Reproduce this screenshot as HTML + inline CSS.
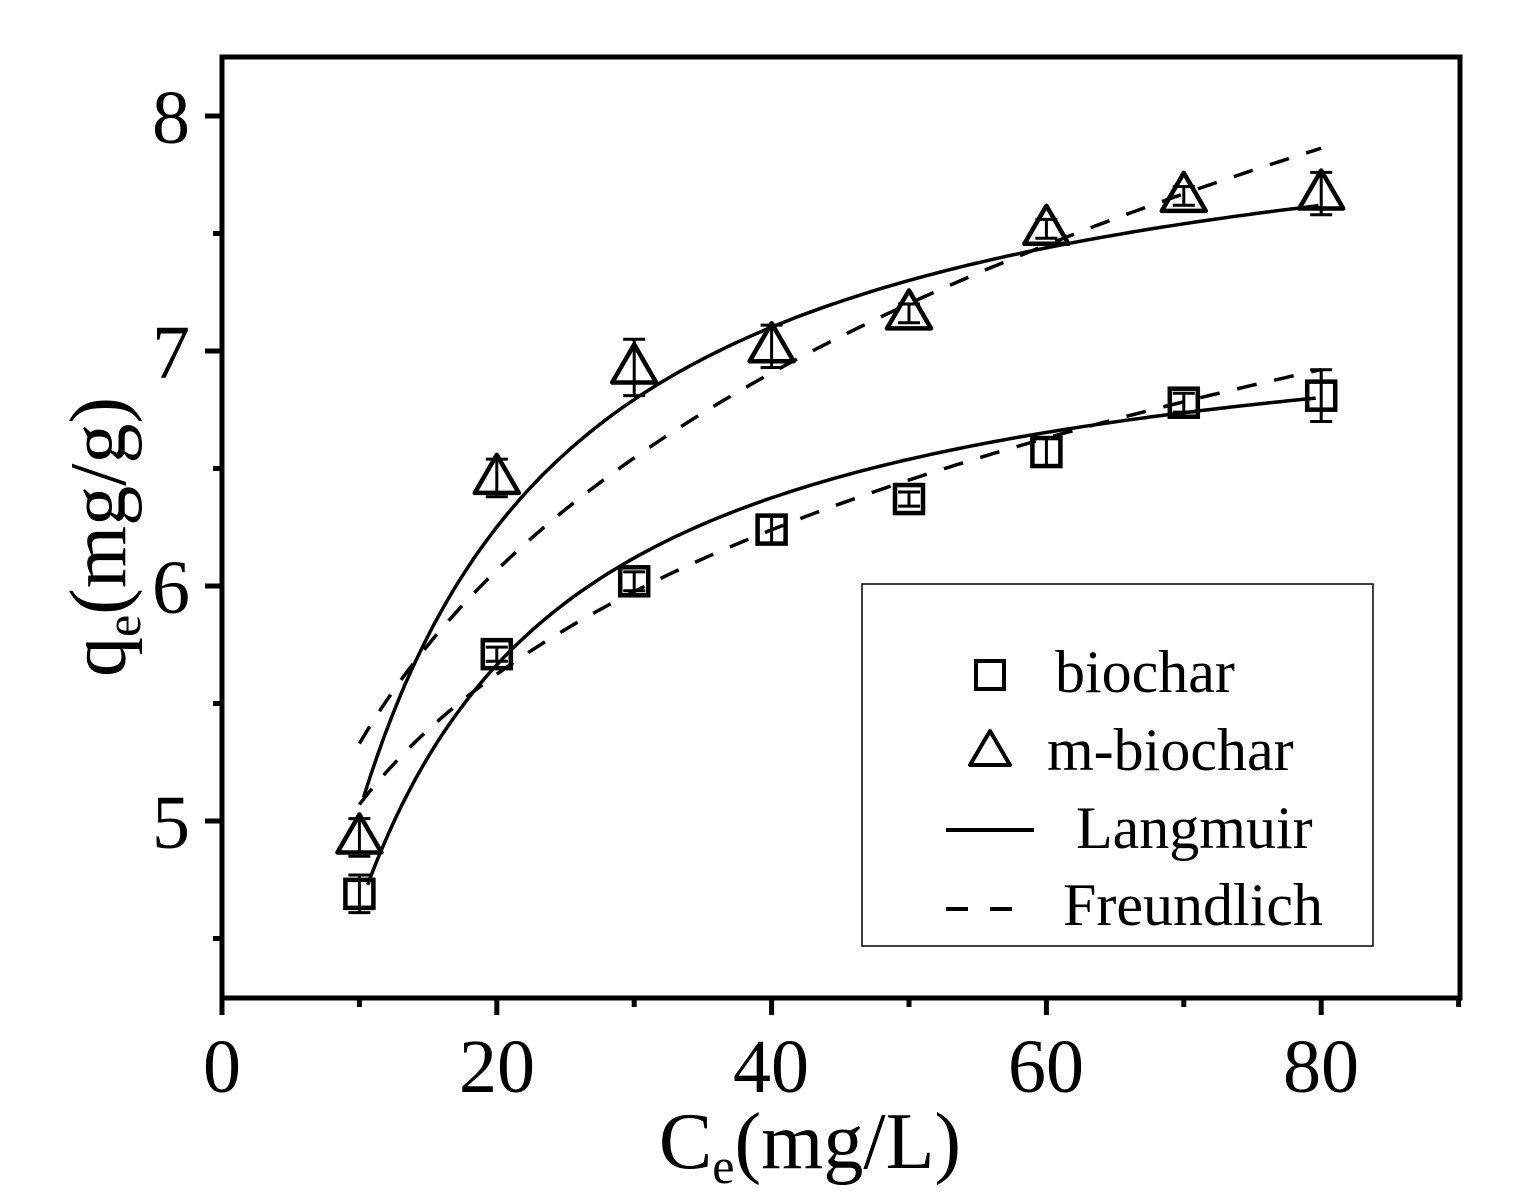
<!DOCTYPE html>
<html><head><meta charset="utf-8"><style>
html,body{margin:0;padding:0;background:#fff;}
svg{display:block;}
text{font-family:"Liberation Serif",serif;fill:#000;}
</style></head><body>
<svg id="s" width="1516" height="1204" xmlns="http://www.w3.org/2000/svg">
<rect x="222" y="57" width="1238" height="941" fill="none" stroke="#000" stroke-width="5"/>
<g id="ticks" stroke="#000" stroke-width="5"></g>
<g font-size="76" text-anchor="middle">
<text x="222" y="1092">0</text><text x="497" y="1092">20</text><text x="771" y="1092">40</text><text x="1046" y="1092">60</text><text x="1321" y="1092">80</text>
<text x="171" y="143">8</text><text x="171" y="378">7</text><text x="171" y="613">6</text><text x="171" y="848">5</text>
</g>
<text x="810" y="1168" font-size="80" text-anchor="middle">C<tspan font-size="50" dy="15">e</tspan><tspan dy="-15">(mg/L)</tspan></text>
<text transform="translate(125,537) rotate(-90)" font-size="80" text-anchor="middle">q<tspan font-size="50" dy="15">e</tspan><tspan dy="-15">(mg/g)</tspan></text>
<g id="curves" fill="none" stroke="#000" stroke-width="3.5"></g>
<g id="pts" fill="none" stroke="#000" stroke-width="4.5"></g>
<rect x="862" y="584" width="511" height="362" fill="#fff" stroke="#000" stroke-width="1.5"/>
<rect x="976" y="661" width="28" height="28" fill="none" stroke="#000" stroke-width="4"/>
<polygon points="990,731 970,765 1010,765" fill="none" stroke="#000" stroke-width="4" stroke-linejoin="round"/>
<line x1="946" y1="830" x2="1034" y2="830" stroke="#000" stroke-width="4"/>
<line x1="946" y1="909" x2="968" y2="909" stroke="#000" stroke-width="4"/>
<line x1="990" y1="909" x2="1012" y2="909" stroke="#000" stroke-width="4"/>
<g font-size="60">
<text x="1055" y="692">biochar</text>
<text x="1047" y="770">m-biochar</text>
<text x="1076" y="848">Langmuir</text>
<text x="1063" y="925">Freundlich</text>
</g>
</svg>
<script>
var NS="http://www.w3.org/2000/svg";
function X(c){return 222+c*13.74;}function Y(q){return 116+(8-q)*235;}
function el(p,t,a){var e=document.createElementNS(NS,t);for(var k in a)e.setAttribute(k,a[k]);document.getElementById(p).appendChild(e);return e;}
for(var c=0;c<=90;c+=10){var L=(c%20==0)?17:9;el("ticks","line",{x1:X(c),x2:X(c),y1:998,y2:998+L});}
for(var q=4.5;q<=8.01;q+=0.5){var L=(Math.abs(q-Math.round(q))<0.01)?17:9;el("ticks","line",{x1:222,x2:222-L,y1:Y(q),y2:Y(q)});}
function curve(f,c0,c1,dash){var d="";for(var c=c0;c<=c1+0.001;c+=0.5){d+=(d?"L":"M")+X(c).toFixed(1)+","+Y(f(c)).toFixed(1);}var a={d:d};if(dash)a["stroke-dasharray"]="20 18";el("curves","path",a);}
curve(function(c){return 8.22*c/(6.3+c);},10.3,80);
curve(function(c){return 7.29*c/(5.74+c);},10.6,80);
curve(function(c){return 3.465*Math.pow(c,0.187);},10,80,1);
curve(function(c){return 3.593*Math.pow(c,0.1496);},10,80,1);
var b=[[10,4.69,.08],[20,5.71,.03],[30,6.02,.04],[40,6.24,.06],[50,6.37,.03],[60,6.57,.06],[70,6.78,.04],[80,6.81,.11]];
var m=[[10,4.93,.08],[20,6.46,.08],[30,6.93,.12],[40,7.02,.09],[50,7.16,.04],[60,7.52,.04],[70,7.66,.04],[80,7.67,.09]];
function eb(x,y,e){el("pts","line",{x1:x,x2:x,y1:Y(y-e),y2:Y(y+e),"stroke-width":3});el("pts","line",{x1:x-11,x2:x+11,y1:Y(y-e),y2:Y(y-e),"stroke-width":3});el("pts","line",{x1:x-11,x2:x+11,y1:Y(y+e),y2:Y(y+e),"stroke-width":3});}
b.forEach(function(p){var x=X(p[0]),y=Y(p[1]);eb(x,p[1],p[2]);el("pts","rect",{x:x-14,y:y-14,width:28,height:28,fill:"none"});});
m.forEach(function(p){var x=X(p[0]),y=Y(p[1]);eb(x,p[1],p[2]);el("pts","polygon",{points:(x)+","+(y-23)+" "+(x-22)+","+(y+15)+" "+(x+22)+","+(y+15),"stroke-linejoin":"round"});});
</script>
</body></html>
